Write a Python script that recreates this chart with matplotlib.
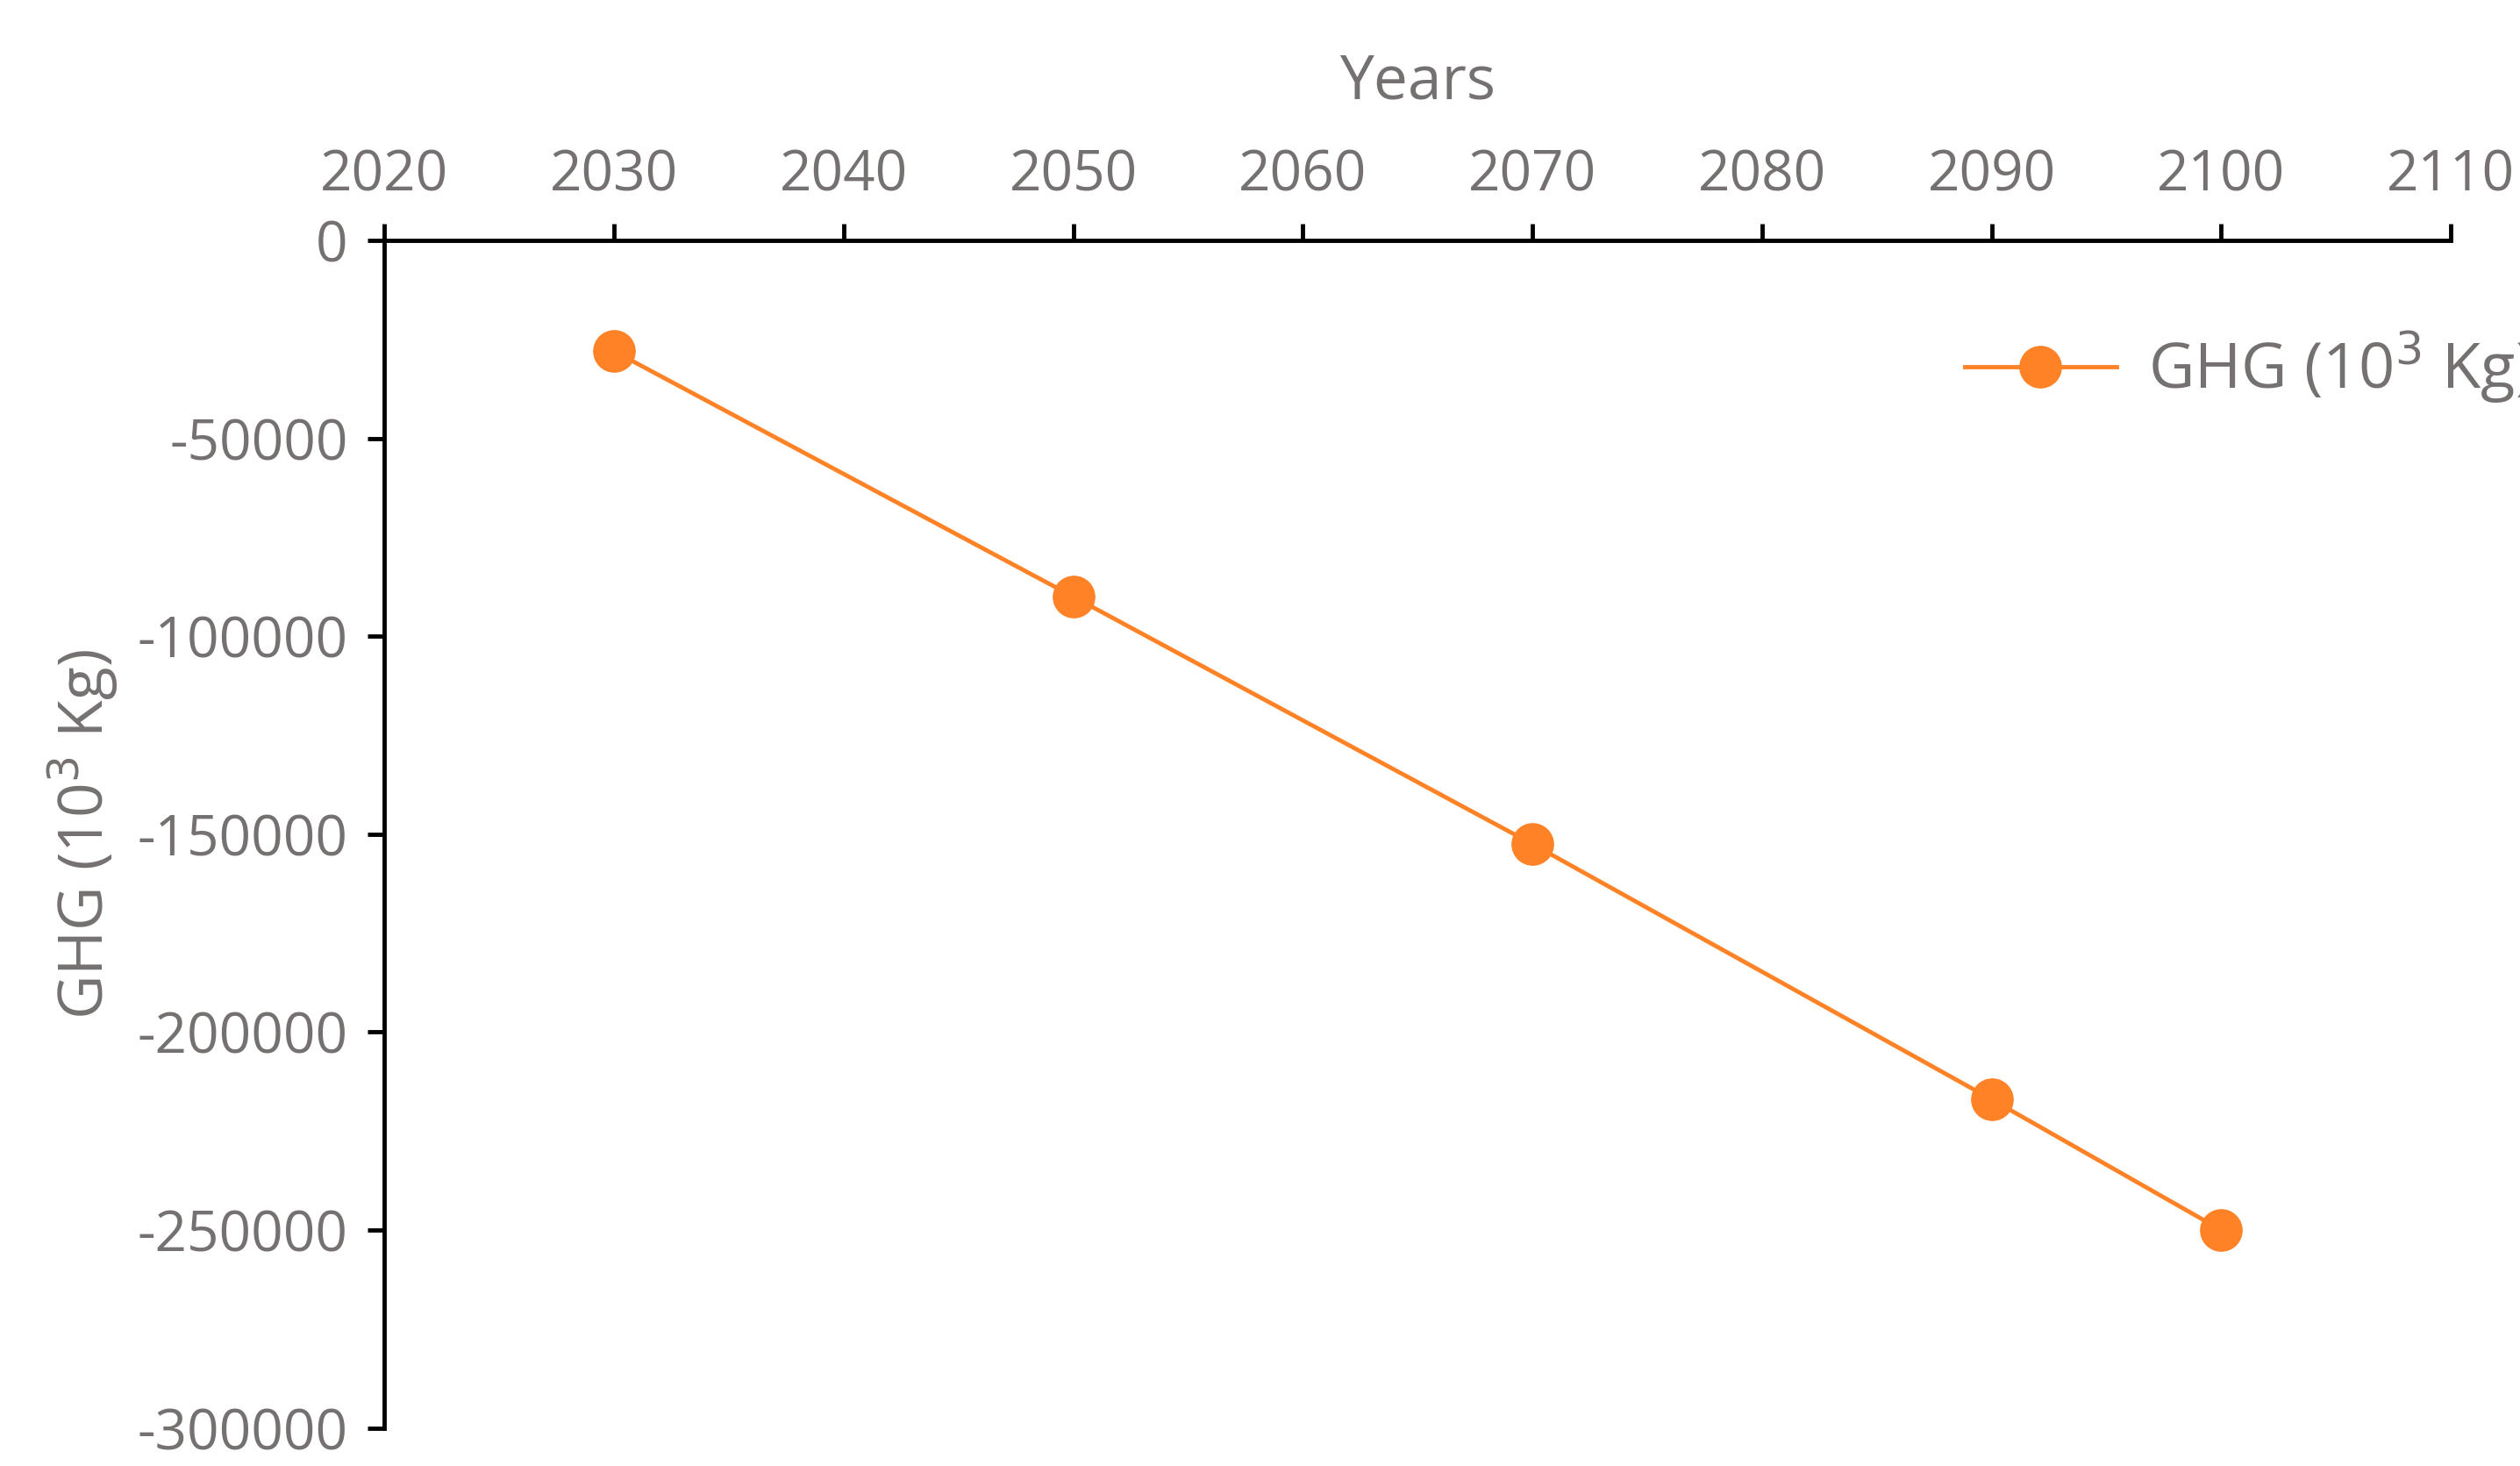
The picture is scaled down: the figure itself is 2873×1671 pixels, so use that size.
import matplotlib.pyplot as plt

years = [2030, 2050, 2070, 2090, 2100]
ghg = [-28000, -90000, -152500, -217000, -250000]

x_ticks = list(range(2020, 2111, 10))
y_ticks = list(range(-300000, 1, 50000))

gray = '#767171'
orange = '#FF8226'

plt.rcParams['font.family'] = ['Open Sans', 'DejaVu Sans']
plt.rcParams['axes.unicode_minus'] = False

fig = plt.figure(figsize=(28.73, 16.71), dpi=100)
ax = fig.add_axes([0.1526, 0.026, 0.9725 - 0.1526, 0.836 - 0.026])

ax.plot(years, ghg, '-o', color=orange, lw=3.5, markersize=34, label='GHG (10$^3$ Kg)')

ax.set_xlim(2020, 2110)
ax.set_ylim(-300000, 0)
ax.set_xticks(x_ticks)
ax.set_yticks(y_ticks)
ax.xaxis.tick_top()
ax.xaxis.set_label_position('top')
for s in ['right', 'bottom']:
    ax.spines[s].set_visible(False)
for s in ['left', 'top']:
    ax.spines[s].set_linewidth(3.5)
    ax.spines[s].set_color('black')
ax.tick_params(axis='both', direction='out', length=14, width=3.5,
               labelsize=46, labelcolor=gray, pad=16)

ax.set_xlabel('Years', fontsize=50, color=gray, labelpad=40)
ax.set_ylabel('GHG (10$^3$ Kg)', fontsize=50, color=gray, labelpad=14)

leg = ax.legend(loc='center left', bbox_to_anchor=(0.767, 0.749),
                bbox_transform=fig.transFigure, frameon=False,
                fontsize=52, handlelength=2.4, handletextpad=0.5,
                borderpad=0, labelcolor=gray)

fig.savefig('out.png', dpi=100)
